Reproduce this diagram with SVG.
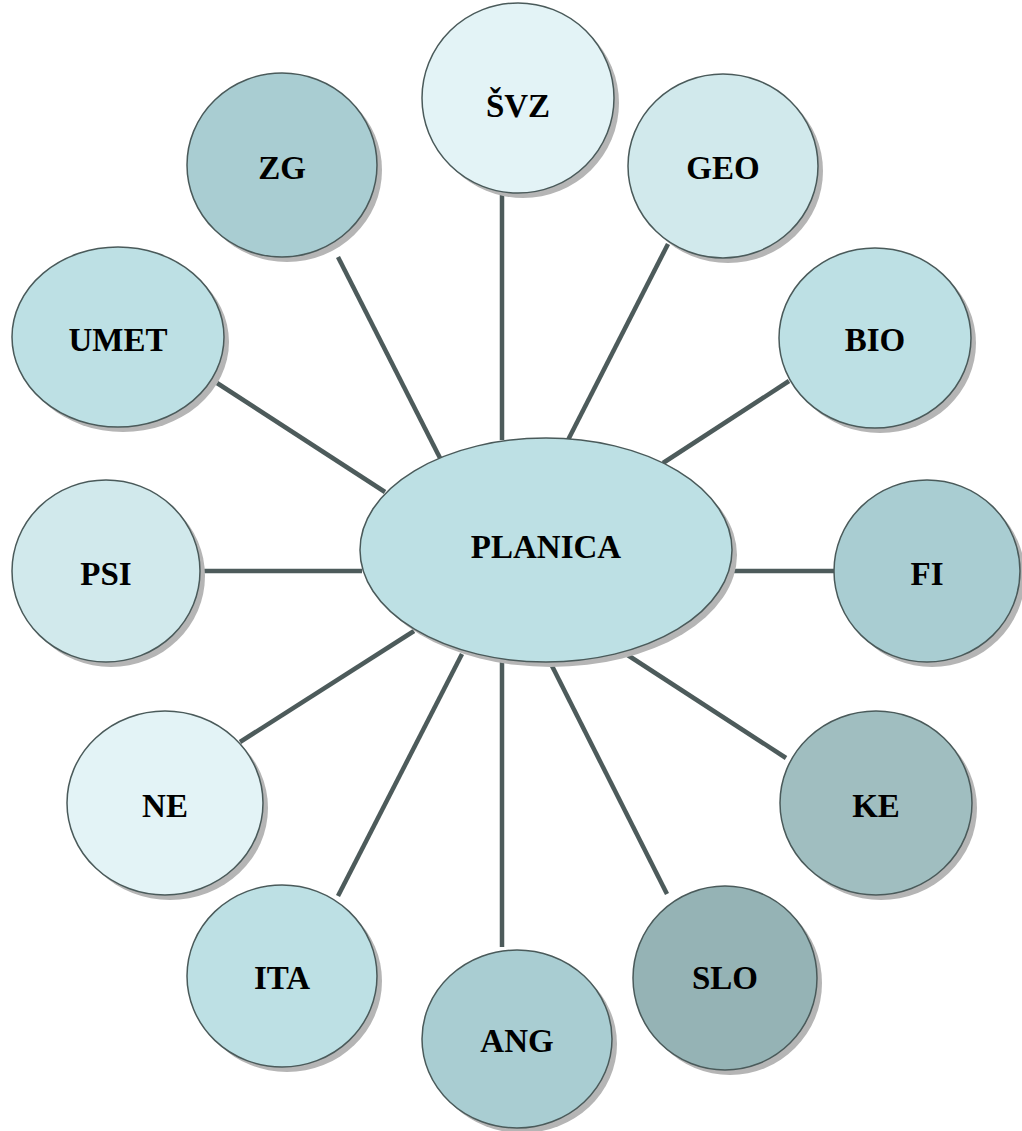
<svg xmlns="http://www.w3.org/2000/svg" width="1022" height="1131" viewBox="0 0 1022 1131">
<defs>
<style>
.n{stroke:#4a5a5a;stroke-width:1.5}
.sh{fill:#b5b5b5}
.t{font-family:"Liberation Serif","Times New Roman",serif;font-weight:bold;font-size:33px;fill:#000;text-anchor:middle;dominant-baseline:central}
.c line{stroke:#4d5b5b;stroke-width:4.5}
</style>
</defs>
<rect width="1022" height="1131" fill="#fff"/>
<g class="c" id="connectors">
<line x1="502" y1="194" x2="502" y2="440"/>
<line x1="338" y1="257" x2="440" y2="458"/>
<line x1="668" y1="244" x2="568" y2="440"/>
<line x1="217" y1="383" x2="385" y2="492"/>
<line x1="789" y1="381" x2="663" y2="463"/>
<line x1="200" y1="571" x2="362" y2="571"/>
<line x1="732" y1="571" x2="834" y2="571"/>
<line x1="240" y1="742" x2="414" y2="631"/>
<line x1="786" y1="758" x2="626" y2="654"/>
<line x1="338" y1="896" x2="462" y2="654"/>
<line x1="667" y1="894" x2="549" y2="660"/>
<line x1="502" y1="947" x2="502" y2="662"/>
</g>
<g id="PLANICA"><ellipse class="sh" cx="551" cy="555" rx="186" ry="112"/><ellipse class="n" cx="546" cy="550" rx="186" ry="112" fill="#bde0e4"/><text class="t" x="546" y="547">PLANICA</text></g>
<g id="SVZ"><ellipse class="sh" cx="523" cy="103" rx="96" ry="95"/><ellipse class="n" cx="518" cy="98" rx="96" ry="95" fill="#e3f3f6"/><text class="t" x="518" y="106">ŠVZ</text></g>
<g id="ZG"><ellipse class="sh" cx="287" cy="170" rx="95" ry="92"/><ellipse class="n" cx="282" cy="165" rx="95" ry="92" fill="#a9cdd2"/><text class="t" x="282" y="168">ZG</text></g>
<g id="GEO"><ellipse class="sh" cx="728" cy="171" rx="95" ry="92"/><ellipse class="n" cx="723" cy="166" rx="95" ry="92" fill="#d1e9ec"/><text class="t" x="723" y="168">GEO</text></g>
<g id="UMET"><ellipse class="sh" cx="123" cy="342" rx="106" ry="90"/><ellipse class="n" cx="118" cy="337" rx="106" ry="90" fill="#bde0e4"/><text class="t" x="118" y="340">UMET</text></g>
<g id="BIO"><ellipse class="sh" cx="880" cy="343" rx="96" ry="90"/><ellipse class="n" cx="875" cy="338" rx="96" ry="90" fill="#bde0e4"/><text class="t" x="875" y="340">BIO</text></g>
<g id="PSI"><ellipse class="sh" cx="111" cy="576" rx="94" ry="91"/><ellipse class="n" cx="106" cy="571" rx="94" ry="91" fill="#d1e9ec"/><text class="t" x="106" y="574">PSI</text></g>
<g id="FI"><ellipse class="sh" cx="932" cy="576" rx="93" ry="91"/><ellipse class="n" cx="927" cy="571" rx="93" ry="91" fill="#a9cdd2"/><text class="t" x="927" y="574">FI</text></g>
<g id="NE"><ellipse class="sh" cx="170" cy="808" rx="98" ry="92"/><ellipse class="n" cx="165" cy="803" rx="98" ry="92" fill="#e3f3f6"/><text class="t" x="165" y="806">NE</text></g>
<g id="KE"><ellipse class="sh" cx="881" cy="808" rx="96" ry="92"/><ellipse class="n" cx="876" cy="803" rx="96" ry="92" fill="#a0bec0"/><text class="t" x="876" y="806">KE</text></g>
<g id="ITA"><ellipse class="sh" cx="287" cy="981" rx="95" ry="91"/><ellipse class="n" cx="282" cy="976" rx="95" ry="91" fill="#bde0e4"/><text class="t" x="282" y="978">ITA</text></g>
<g id="SLO"><ellipse class="sh" cx="730" cy="983" rx="92" ry="92"/><ellipse class="n" cx="725" cy="978" rx="92" ry="92" fill="#95b3b5"/><text class="t" x="725" y="978">SLO</text></g>
<g id="ANG"><ellipse class="sh" cx="522" cy="1044" rx="95" ry="89"/><ellipse class="n" cx="517" cy="1039" rx="95" ry="89" fill="#a9cdd2"/><text class="t" x="517" y="1041">ANG</text></g>
</svg>
